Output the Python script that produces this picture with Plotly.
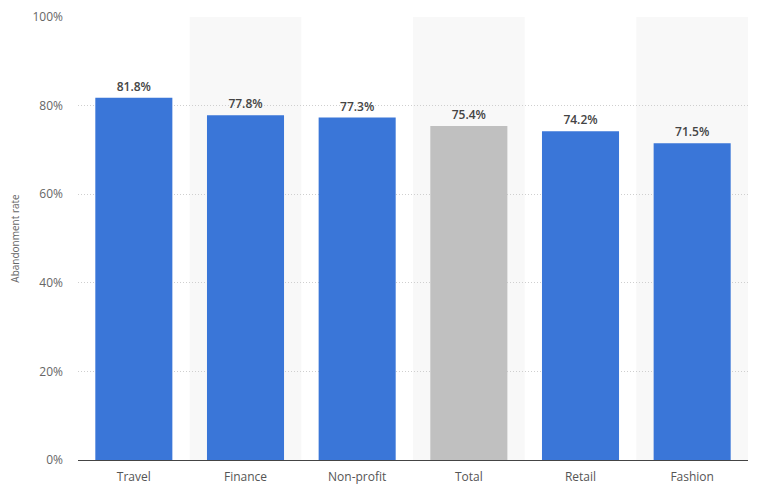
import plotly.graph_objects as go

categories = ["Travel", "Finance", "Non-profit", "Total", "Retail", "Fashion"]
values = [81.8, 77.8, 77.3, 75.4, 74.2, 71.5]
colors = ["#3a76d8", "#3a76d8", "#3a76d8", "#c0c0c0", "#3a76d8", "#3a76d8"]
labels = [f"{v:.1f}%" for v in values]
yticks = [0, 20, 40, 60, 80, 100]
yticklabels = [f"{t}%" for t in yticks]

fig = go.Figure()
fig.add_trace(go.Bar(
    x=categories, y=values, marker=dict(color=colors, line=dict(width=0)),
    text=labels, textposition="outside", cliponaxis=False,
    textfont=dict(family="Open Sans", size=12, color="#444444", weight=600),
    width=0.69,
))

shapes = []
for i in range(len(categories)):
    if i % 2 == 1:
        shapes.append(dict(type="rect", xref="x", yref="y", x0=i - 0.5, x1=i + 0.5,
                           y0=0, y1=100, fillcolor="#f8f8f8", line=dict(width=0), layer="below"))

fig.update_layout(
    width=752, height=482,
    margin=dict(l=70, r=12, t=9, b=30, autoexpand=False),
    plot_bgcolor="white", paper_bgcolor="white",
    shapes=shapes, showlegend=False,
    font=dict(family="Open Sans", color="#666666"),
)
fig.update_xaxes(
    showgrid=False, showline=True, linecolor="#444444", linewidth=1.2,
    tickfont=dict(size=12, color="#555555"), ticks="outside", ticklen=5, tickcolor="rgba(0,0,0,0)",
    range=[-0.5, 5.5], automargin=False,
)
fig.update_yaxes(
    range=[0, 100], tickvals=yticks, ticktext=yticklabels,
    showgrid=True, gridcolor="#cfcfcf", griddash="1px,2px", gridwidth=1,
    zeroline=False, tickfont=dict(size=12, color="#666666"), ticks="",
    title=dict(text="Abandonment rate", font=dict(size=10, color="#666666"), standoff=12),
    ticklabelstandoff=14, automargin=False, ticklabeloverflow="allow",
)
fig.write_html("out.html")
